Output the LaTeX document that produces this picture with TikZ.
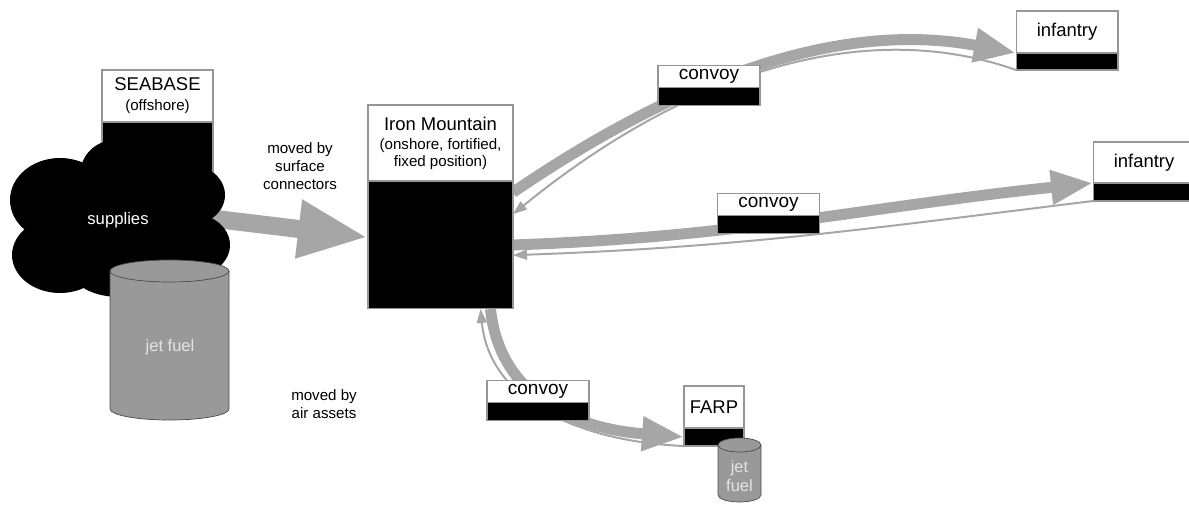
\documentclass[tikz,border=0pt]{standalone}
\usepackage{fontspec}
\setmainfont{Liberation Sans}
\usetikzlibrary{positioning,arrows.meta,backgrounds}
\definecolor{flow}{RGB}{166,166,166}
\definecolor{fuel}{RGB}{153,153,153}
\definecolor{edge}{RGB}{150,150,150}
\definecolor{pale}{RGB}{228,228,228}
\newcommand{\mainsz}{\fontsize{10.5}{11.3}\selectfont}
\newcommand{\subsz}{\fontsize{8.6}{10.3}\selectfont}

\begin{document}
\begin{tikzpicture}[x=0.02cm,y=0.02cm,
    top/.style = {draw=edge, fill=white, line width=0.6pt, inner sep=0pt, outer sep=0pt, align=center, font=\mainsz},
    bar/.style = {draw=edge, fill=black, line width=0.6pt, inner sep=0pt, outer sep=0pt},
    cv/.style = {top, minimum width=2.04cm, minimum height=0.44cm, font=\fontsize{10.8}{12}\selectfont},
    cvb/.style = {bar, minimum width=2.04cm, minimum height=0.36cm},
    fat/.style = {draw=flow, line width=0.22cm, -{Triangle[length=0.84cm,width=0.64cm]}},
    back/.style = {draw=flow, line width=0.04cm, -{Triangle[length=0.28cm,width=0.2cm]}},
    note/.style = {align=center, font=\subsz}]
    \useasboundingbox (0,0) rectangle (1189,504);

    \node[top, minimum width=2.22cm, minimum height=1.04cm] (sea) at (157.5,408) {SEABASE\\\subsz (offshore)};
    \node[bar, minimum width=2.22cm, minimum height=1.36cm, below=0pt of sea] (seab) {};
    \fill (60,304) ellipse [x radius=1cm, y radius=0.84cm];
    \fill (115,329) ellipse [x radius=0.7cm, y radius=0.7cm];
    \fill (190,309) ellipse [x radius=0.7cm, y radius=0.6cm];
    \fill (60,249) ellipse [x radius=0.96cm, y radius=0.76cm];
    \fill (190,259) ellipse [x radius=0.8cm, y radius=0.64cm];
    \fill (130,264) ellipse [x radius=1.4cm, y radius=1.1cm];
    \fill (120,229) ellipse [x radius=0.9cm, y radius=0.44cm];
    \node[white, font=\fontsize{9.5}{11}\selectfont] (sup) at (118,284) {supplies};
    \coordinate (src) at (150,293);

    \draw[black!70, fill=fuel] (110,233) -- (110,95) arc[start angle=180, end angle=360, x radius=1.19cm, y radius=0.22cm] -- (229,233) -- cycle;
    \draw[black!70, fill=fuel] (169.5,233) ellipse [x radius=1.19cm, y radius=0.22cm];
    \node[pale, font=\fontsize{9.4}{10.5}\selectfont] (fuel) at (170,157) {jet fuel};

    \node[note] (surf) at (300,338) {moved by\\surface\\connectors};
    \node[note] (air) at (324,100) {moved by\\air assets};

    \node[top, minimum width=2.9cm, minimum height=1.52cm] (im) at (440.5,361) {Iron Mountain\\\subsz (onshore, fortified,\\[-2pt]\subsz fixed position)};
    \node[bar, minimum width=2.9cm, minimum height=2.56cm, below=0pt of im] (imb) {};

    \node[cv] (cv1) at (709,427.5) {convoy};
    \node[cvb, below=0pt of cv1] (cv1b) {};
    \node[cv] (cv2) at (768.5,299.5) {convoy};
    \node[cvb, below=0pt of cv2] (cv2b) {};
    \node[cv] (cv3) at (538,112.5) {convoy};
    \node[cvb, below=0pt of cv3] (cv3b) {};

    \node[top, minimum width=2.04cm, minimum height=0.84cm] (inf1) at (1067,472) {infantry};
    \node[bar, minimum width=2.04cm, minimum height=0.34cm, below=0pt of inf1] (inf1b) {};
    \node[top, minimum width=2.04cm, minimum height=0.82cm] (inf2) at (1144,341.5) {infantry};
    \node[bar, minimum width=2.04cm, minimum height=0.36cm, below=0pt of inf2] (inf2b) {};

    \node[top, minimum width=1.2cm, minimum height=0.84cm] (farp) at (714,97) {FARP};
    \node[bar, minimum width=1.2cm, minimum height=0.36cm, below=0pt of farp] (farpb) {};
    \draw[black!70, fill=fuel] (718,59) -- (718,9) arc[start angle=180, end angle=360, x radius=0.43cm, y radius=0.14cm] -- (761,59) -- cycle;
    \draw[black!70, fill=fuel] (739.5,59) ellipse [x radius=0.43cm, y radius=0.14cm];
    \node[pale, align=center, font=\fontsize{9.4}{10.5}\selectfont] (fuel2) at (739.5,28) {jet\\fuel};

    \begin{pgfonlayer}{background}
        \draw[draw=flow, line width=0.36cm, -{Triangle[length=1.4cm,width=1.08cm]}] (src) -- (imb.174);
        \draw[fat] (imb.36) .. controls (650,405) and (820,488) .. (inf1b.north west);
        \draw[back] (inf1b.south west) .. controls (855,491) and (675,422) .. (imb.23);
        \draw[fat] (imb.east) to[out=2,in=186] (inf2b.north west);
        \draw[back] (inf2b.south west) to[out=187,in=2] (imb.-8);
        \draw[fat] (imb.-52) .. controls (500,104) and (580,75) .. (farpb.west);
        \draw[back] (farpb.south west) .. controls (585,62) and (490,100) .. (imb.-58);
    \end{pgfonlayer}
\end{tikzpicture}
\end{document}
